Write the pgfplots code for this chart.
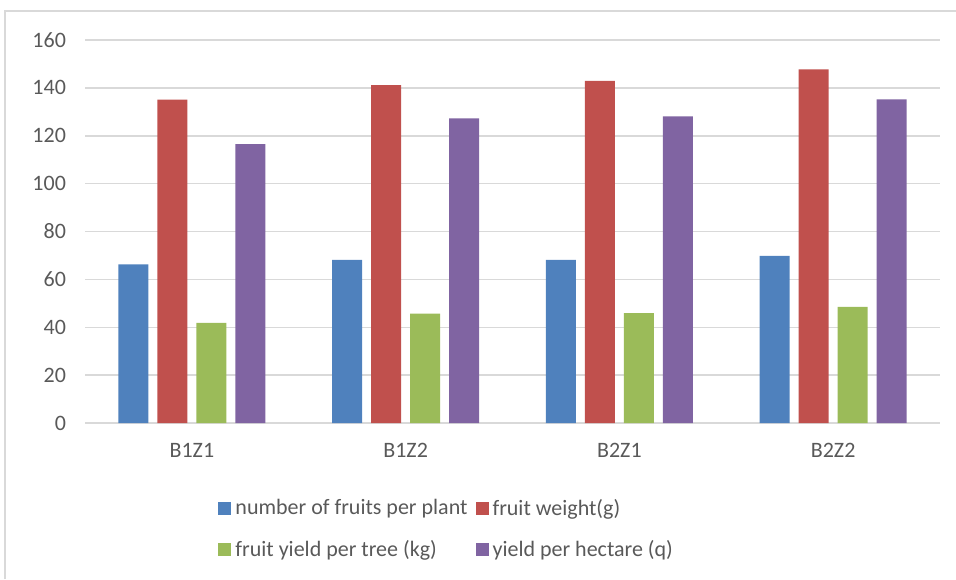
\documentclass[border=0pt]{standalone}
\usepackage{pgfplots}
\pgfplotsset{compat=1.18}
\usepackage{fontspec}
\setmainfont{Carlito}
\definecolor{sBlue}{HTML}{4F81BD}
\definecolor{sRed}{HTML}{C0504D}
\definecolor{sGreen}{HTML}{9BBB59}
\definecolor{sPurple}{HTML}{8064A2}
\definecolor{txt}{HTML}{595959}
\definecolor{gridc}{HTML}{D9D9D9}

\begin{document}
\begin{tikzpicture}
\useasboundingbox (0pt,0pt) rectangle (478pt,-289.5pt);
\draw[gridc, line width=0.75pt] (2.5pt,-289.5pt) -- (2.5pt,-5.5pt) -- (478pt,-5.5pt);
\begin{axis}[
  at={(42.5pt,-211.5pt)}, anchor=south west,
  scale only axis, width=427.5pt, height=191.5pt,
  ymin=0, ymax=160, ytick={0,20,...,160},
  xmin=-0.5, xmax=3.5, xtick={0,1,2,3},
  xticklabels={B1Z1,B1Z2,B2Z1,B2Z2},
  ybar=4.5pt, bar width=15pt,
  ymajorgrids, grid style={gridc, line width=0.75pt},
  axis line style={draw=none},
  major tick length=0pt,
  tick label style={font=\fontsize{11}{13}\selectfont, text=txt},
  /pgf/number format/assume math mode=true,
  yticklabel style={xshift=-6pt},
  xticklabel style={yshift=-6.5pt},
  legend columns=2,
  legend cell align=left,
  legend style={draw=none, fill=none, font=\fontsize{11}{13}\selectfont,
    text=txt, at={(0.1486,-0.177)}, anchor=north west, row sep=7pt,
    /tikz/every even column/.append style={column sep=2pt}},
  legend image code/.code={\fill[#1] (0pt,-3.25pt) rectangle (6.5pt,3.25pt);},
]
\addplot[fill=sBlue, draw=none] coordinates {(0,66.3) (1,68.1) (2,68.1) (3,69.8)};
\addplot[fill=sRed, draw=none] coordinates {(0,135.1) (1,141.2) (2,142.9) (3,147.7)};
\addplot[fill=sGreen, draw=none] coordinates {(0,41.8) (1,45.7) (2,45.9) (3,48.5)};
\addplot[fill=sPurple, draw=none] coordinates {(0,116.5) (1,127.3) (2,128.1) (3,135.2)};
\legend{number of fruits per plant, fruit weight(g), fruit yield per tree (kg), yield per hectare (q)}
\end{axis}
\end{tikzpicture}
\end{document}
